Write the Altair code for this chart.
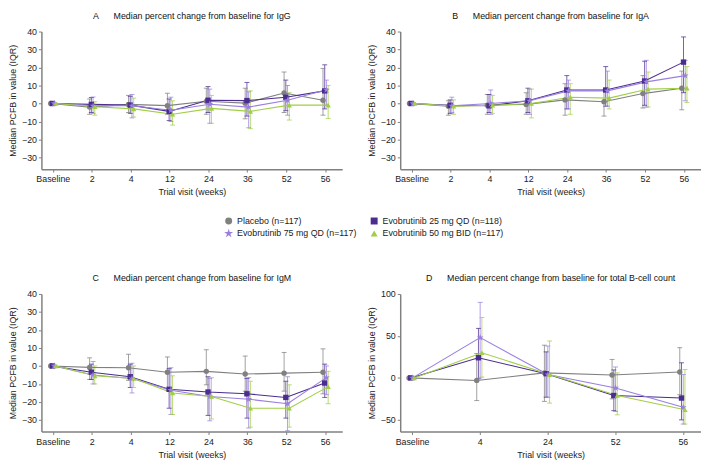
import altair as alt
import pandas as pd

groups = ["Placebo (n=117)", "Evobrutinib 25 mg QD (n=118)",
          "Evobrutinib 75 mg QD (n=117)", "Evobrutinib 50 mg BID (n=117)"]
colors = ["#808080", "#4b2c91", "#9a7fe0", "#a0cf45"]
STAR = ("M0,-1.35L0.303,-0.417L1.284,-0.417L0.490,0.159L0.794,1.092L0,0.516"
        "L-0.794,1.092L-0.490,0.159L-1.284,-0.417L-0.303,-0.417Z")
shapes = ["circle", "square", STAR, "triangle-up"]
sizes = [30, 30, 50, 40]
# legend is filled row by row: Placebo | 25 mg, then 75 mg | 50 mg BID
legend_order = [groups[0], groups[2], groups[1], groups[3]]

visits_ig = ["Baseline", "2", "4", "12", "24", "36", "52", "56"]
visits_b = ["Baseline", "4", "24", "52", "56"]
N = None

# IgG: (median, q1, q3) per group
igg_pl_med = [0, -2, -0.5, -1.2, 1.2, 0.2, 5.8, 1.8]
igg_pl_lo = [N, -6, -5, -6, -6, -8.5, -5, -6.5]
igg_pl_hi = [N, 2.5, 4.5, 5.7, 8.5, 8.5, 17.5, 19.5]
igg_25_med = [0, -0.5, -0.9, -4.4, 1.8, 1.6, 3.5, 7]
igg_25_lo = [N, -5, -5.5, -9.5, -5, -7, -4, -3]
igg_25_hi = [N, 3.3, 4, 2.5, 9.4, 11.7, 13, 21.5]
igg_75_med = [0, -1.3, -1.3, -3.8, -0.4, -2, 1.8, 7.6]
igg_75_lo = [N, -5.5, -8, -10, -11, -13.5, -6.5, -1]
igg_75_hi = [N, 3.6, 5, 3.5, 8, 6.5, 10, 13]
igg_50_med = [0, -1.8, -3, -6, -2.7, -4.4, -0.9, -0.9]
igg_50_lo = [N, -6.5, -7.5, -12, -11, -14, -9.2, -8.3]
igg_50_hi = [N, 1, 3, 1.5, 4.5, 7, 6, 10]

# IgA
iga_pl_med = [0, -1.5, -1, -0.5, 2, 1, 5.5, 8.5]
iga_pl_lo = [N, -6.5, -6, -6, -6.5, -7, -2.5, -3.5]
iga_pl_hi = [N, 1.5, 5, 6, 11, 7.5, 15.5, 18]
iga_25_med = [0, -1, -1.3, 1.5, 7.5, 7.5, 12.5, 23]
iga_25_lo = [N, -5.5, -5, -5, -3, -1.5, -1, 6]
iga_25_hi = [N, 2, 5, 8.5, 15.5, 20.5, 23.5, 37]
iga_75_med = [0, -1.3, 0, 1.5, 7, 7, 12, 15.5]
iga_75_lo = [N, -5, -6, -6, -3, -1.5, -2, 1.5]
iga_75_hi = [N, 3.5, 7.5, 8, 13, 18, 24, 24]
iga_50_med = [0, -1.5, -1, 0, 3.5, 3, 8, 8.5]
iga_50_lo = [N, -6, -5.5, -8, -6, -3, -2, 0.5]
iga_50_hi = [N, 2, 4.5, 8, 11, 13, 17.5, 20.5]

# IgM
igm_pl_med = [0, -0.8, -1, -3.5, -3, -4.5, -4, -3.5]
igm_pl_lo = [N, -7.5, -8, -13.5, -10.5, -14, -14, -15.5]
igm_pl_hi = [N, 4.5, 6.5, 5, 9, 5.5, 7.5, 9.5]
igm_25_med = [0, -3.5, -6, -13, -14.5, -15.5, -17.5, -9.5]
igm_25_lo = [N, -7.5, -12, -23.5, -27.5, -29, -29, -17.5]
igm_25_hi = [N, 1, 1, -1.5, -6, -7, -8.5, 1]
igm_75_med = [0, -5, -7, -13.5, -17, -18.5, -21, -6.5]
igm_75_lo = [N, -10, -15, -27, -30.5, -34.5, -36, -16]
igm_75_hi = [N, 2.5, 1.5, -1, -7, -6.5, -6, 0]
igm_50_med = [0, -5.5, -7, -15, -17, -23.5, -23.5, -11.5]
igm_50_lo = [N, -10, -12, -27, -29.5, -34, -34, -21]
igm_50_hi = [N, 0, 0, -5.5, -6.5, -8.5, -10.5, -3]

# Total B-cell count
bc_pl_med = [0, -3, 6, 3.5, 7]
bc_pl_lo = [N, -27, -28, -25, -20]
bc_pl_hi = [N, 29, 39, 22, 36]
bc_25_med = [0, 24, 5, -21, -24]
bc_25_lo = [N, -1, -23, -39, -50]
bc_25_hi = [N, 59, 31, 9.5, 18]
bc_75_med = [0, 48, 4, -12, -35]
bc_75_lo = [N, 0, -23, -40, -55]
bc_75_hi = [N, 90, 38, 13, 4]
bc_50_med = [0, 30, 4, -21, -38]
bc_50_lo = [N, 1, -30, -44, -55]
bc_50_hi = [N, 72, 44, 6, 10]

FONT = "Liberation Sans"
FS = 9
PW, PH = 306, 140

legend = alt.Legend(title=None, orient="none", legendX=186, legendY=188,
                    columns=2, columnPadding=13, rowPadding=2,
                    labelFont=FONT, labelFontSize=FS, labelColor="#222",
                    symbolSize=50, symbolStrokeWidth=0, symbolOpacity=1)

col_map = dict(zip(groups, colors))
shp_map = dict(zip(groups, shapes))


def build(series, visits):
    rows = []
    for g, (med, lo, hi) in zip(groups, series):
        for v, m, l, h in zip(visits, med, lo, hi):
            rows.append({"visit": v, "group": g, "med": m, "lo": l, "hi": h})
    return pd.DataFrame(rows)


def panel(df, visits, title, ydom, yticks, pi, po, al):
    x = alt.X("visit:O", sort=visits,
              scale=alt.Scale(type="band", paddingInner=pi, paddingOuter=po,
                              align=al),
              axis=alt.Axis(title="Trial visit (weeks)", labelAngle=0))
    xo = alt.XOffset("group:N", sort=groups, scale=alt.Scale(domain=groups))
    ysc = alt.Scale(domain=ydom, nice=False, zero=False)
    yax = alt.Axis(values=yticks, title="Median PCFB in value (IQR)")
    color = alt.Color("group:N", sort=legend_order,
                      scale=alt.Scale(domain=legend_order,
                                      range=[col_map[g] for g in legend_order]),
                      legend=legend)
    shape = alt.Shape("group:N", sort=legend_order,
                      scale=alt.Scale(domain=legend_order,
                                      range=[shp_map[g] for g in legend_order]),
                      legend=legend)
    size = alt.Size("group:N", scale=alt.Scale(domain=groups, range=sizes),
                    legend=None)
    base = alt.Chart(df)
    rules = base.mark_rule(strokeWidth=1, opacity=0.75).encode(
        x=x, xOffset=xo, y=alt.Y("lo:Q", scale=ysc, axis=yax), y2="hi:Q",
        color=color)
    cap_lo = base.mark_tick(orient="horizontal", size=5, thickness=1,
                            opacity=0.75).encode(
        x=x, xOffset=xo, y=alt.Y("lo:Q", scale=ysc, axis=yax), color=color)
    cap_hi = base.mark_tick(orient="horizontal", size=5, thickness=1,
                            opacity=0.75).encode(
        x=x, xOffset=xo, y=alt.Y("hi:Q", scale=ysc, axis=yax), color=color)
    lines = base.mark_line(strokeWidth=1.1).encode(
        x=x, xOffset=xo, y=alt.Y("med:Q", scale=ysc, axis=yax), color=color)
    pts = base.mark_point(filled=True, opacity=1).encode(
        x=x, xOffset=xo, y=alt.Y("med:Q", scale=ysc, axis=yax),
        color=color, shape=shape, size=size)
    return alt.layer(rules, cap_lo, cap_hi, lines, pts).properties(
        width=PW, height=PH,
        title=alt.TitleParams(title, font=FONT, fontSize=FS,
                              fontWeight="normal", color="#111",
                              anchor="middle", offset=7))


tA = "A\u00a0\u00a0\u00a0\u00a0\u00a0\u00a0Median percent change from baseline for IgG"
tB = "B\u00a0\u00a0\u00a0\u00a0\u00a0\u00a0Median percent change from baseline for IgA"
tC = "C\u00a0\u00a0\u00a0\u00a0\u00a0\u00a0Median percent change from baseline for IgM"
tD = "D\u00a0\u00a0\u00a0\u00a0\u00a0\u00a0Median percent change from baseline for total B-cell count"

dA = build([(igg_pl_med, igg_pl_lo, igg_pl_hi), (igg_25_med, igg_25_lo, igg_25_hi),
            (igg_75_med, igg_75_lo, igg_75_hi), (igg_50_med, igg_50_lo, igg_50_hi)], visits_ig)
dB = build([(iga_pl_med, iga_pl_lo, iga_pl_hi), (iga_25_med, iga_25_lo, iga_25_hi),
            (iga_75_med, iga_75_lo, iga_75_hi), (iga_50_med, iga_50_lo, iga_50_hi)], visits_ig)
dC = build([(igm_pl_med, igm_pl_lo, igm_pl_hi), (igm_25_med, igm_25_lo, igm_25_hi),
            (igm_75_med, igm_75_lo, igm_75_hi), (igm_50_med, igm_50_lo, igm_50_hi)], visits_ig)
dD = build([(bc_pl_med, bc_pl_lo, bc_pl_hi), (bc_25_med, bc_25_lo, bc_25_hi),
            (bc_75_med, bc_75_lo, bc_75_hi), (bc_50_med, bc_50_lo, bc_50_hi)], visits_b)

ig_ticks = [-30, -20, -10, 0, 10, 20, 30, 40]
pA = panel(dA, visits_ig, tA, [-36.5, 40], ig_ticks, 0.823, 0.278, 0.39)
pB = panel(dB, visits_ig, tB, [-36.5, 40], ig_ticks, 0.823, 0.278, 0.39)
pC = panel(dC, visits_ig, tC, [-36.5, 40], ig_ticks, 0.823, 0.278, 0.39)
pD = panel(dD, visits_b, tD, [-64, 100], [-50, 0, 50, 100], 0.87, 0.157, 0.375)

chart = alt.concat(pA, pB, pC, pD, columns=2,
                   spacing={"row": 79, "column": 25}).properties(
    padding={"left": 0, "top": 0, "right": 0, "bottom": 0}
).configure_view(stroke=None).configure_axis(
    grid=False, labelFont=FONT, titleFont=FONT, labelFontSize=FS,
    titleFontSize=FS, titleFontWeight="normal", labelColor="#222",
    titleColor="#222", domainColor="#808080", tickColor="#808080",
    domainWidth=1.5, tickSize=3
).configure_axisX(labelPadding=3, titlePadding=4
).configure_axisY(titlePadding=4, labelPadding=2)

chart.save("out.html", embed_options={"renderer": "svg", "actions": False})
